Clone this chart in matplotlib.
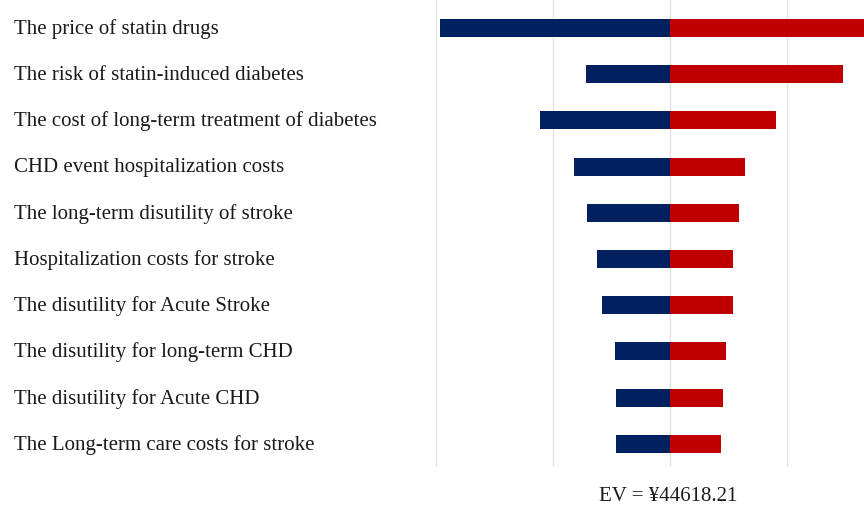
import matplotlib
matplotlib.use("Agg")
import matplotlib.pyplot as plt
import matplotlib.transforms as mtransforms

# --- data: one-way sensitivity (tornado), deviation from EV in grid units ---
PARAMS = [
    "The price of statin drugs",
    "The risk of statin-induced diabetes",
    "The cost of long-term treatment of diabetes",
    "CHD event hospitalization costs",
    "The long-term disutility of stroke",
    "Hospitalization costs for stroke",
    "The disutility for Acute Stroke",
    "The disutility for long-term CHD",
    "The disutility for Acute CHD",
    "The Long-term care costs for stroke",
]
LOW = [-1.97, -0.72, -1.11, -0.82, -0.71, -0.62, -0.58, -0.47, -0.46, -0.46]
HIGH = [2.0, 1.48, 0.91, 0.64, 0.59, 0.54, 0.54, 0.48, 0.45, 0.44]
EV_LABEL = "EV = ¥44618.21"

NAVY = "#002060"
RED = "#C00000"

plt.rcParams["font.family"] = ["Liberation Serif", "DejaVu Serif"]

fig = plt.figure(figsize=(8.64, 5.10), dpi=100)
ax = fig.add_axes([436 / 864, 1 - 468 / 510, (864 - 436) / 864, 468 / 510])

n = len(PARAMS)
ys = list(range(n))
ax.barh(ys, LOW, height=0.39, color=NAVY, zorder=2)
ax.barh(ys, HIGH, height=0.39, color=RED, zorder=2)

ax.set_xlim(-2.0, (864 - 670) / 117)
ax.set_ylim(9.50, -0.628)
ax.set_xticks([-2, -1, 0, 1])
ax.grid(axis="x", color="#e3e3e3", lw=1, zorder=0)
ax.set_yticks([])
ax.tick_params(axis="x", length=0, labelbottom=False)
for s in ax.spines.values():
    s.set_visible(False)

trans = mtransforms.blended_transform_factory(fig.transFigure, ax.transData)
for y, name in zip(ys, PARAMS):
    ax.text(14 / 864, y, name, transform=trans, ha="left", va="center",
            fontsize=15, color="#1a1a1a", clip_on=False)

fig.text(668 / 864, 1 - 497 / 510, EV_LABEL, ha="center", va="center",
         fontsize=15, color="#1a1a1a", family=["Liberation Serif", "DejaVu Serif"])

fig.savefig("out.png", dpi=100)
